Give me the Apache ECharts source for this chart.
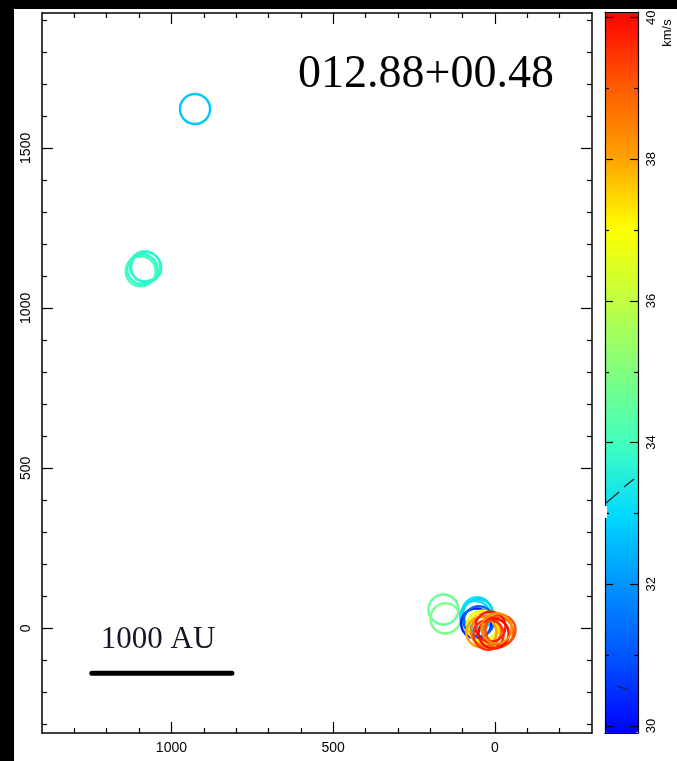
<!DOCTYPE html>
<html>
<head>
<meta charset="utf-8">
<script src="https://cdn.jsdelivr.net/npm/echarts@6/dist/echarts.min.js"></script>
<style>
  html, body { margin: 0; padding: 0; background: #ffffff; }
  #chart { width: 677px; height: 761px; }
</style>
</head>
<body>
<div id="chart"></div>
<script>
// Maser spot offsets (x, y) and line-of-sight velocities (km/s)
const spotX = [927, 1082, 1090, 1095, 1078, 159, 153, 55, 52, 60, 58, 50, 40, 35, 42, 28, -10, -17, 14, 4, 20, -5];
const spotY = [1623, 1132, 1122, 1116, 1128, 59, 31, 50, 44, 38, 15, 22, 8, 0, -12, -8, -12, -5, 5, -16, -20, 0];
const spotV = [32.7, 33.9, 33.8, 34.0, 33.7, 34.6, 34.9, 33.2, 32.9, 33.0, 30.3, 31.2, 36.8, 37.3, 38.0, 38.5, 38.8, 39.2, 39.8, 40.0, 39.5, 38.3];

// Axis ticks
const xMajorTicks = [1000, 500, 0];
const xMinorTicks = [1300, 1200, 1100, 900, 800, 700, 600, 400, 300, 200, 100, -100, -200];
const yMajorTicks = [0, 500, 1000, 1500];
const yMinorTicks = [-300, -200, -100, 100, 200, 300, 400, 600, 700, 800, 900, 1100, 1200, 1300, 1400, 1600, 1700, 1800, 1900];
const velMajorTicks = [30, 32, 34, 36, 38, 40];
const velMinorTicks = [31, 33, 35, 37, 39];

// Scale bar ends
const scaleBarX = [1246, 813];
const scaleBarY = [-140, -140];

const sourceName = '012.88+00.48';
const scaleLabel = '1000 AU';
const velUnit = 'km/s';

const ringRadius = 47; // ring radius in axis units
const ringColors = ['#0000ff', '#0050ff', '#0090ff', '#00d8ff', '#40ffc0', '#80ff80',
                    '#c0ff40', '#ffff00', '#ffa000', '#ff5800', '#ff0000'];

const spots = spotX.map((x, i) => [x, spotY[i], spotV[i]]);
const scaleBar = scaleBarX.map((x, i) => [x, scaleBarY[i]]);

const sans = 'Liberation Sans, Arial, sans-serif';
const serif = 'Liberation Serif, Times New Roman, serif';
const lineCol = '#000';
const plain = v => String(v);

function xAx(pos, ticks, len, showLine, showLabel) {
  return {
    type: 'value', gridIndex: 0, position: pos, inverse: true, min: -300, max: 1400,
    axisLine: { show: showLine, onZero: false, lineStyle: { color: lineCol, width: 1.5 } },
    axisTick: { show: true, inside: true, length: len, customValues: ticks, lineStyle: { color: lineCol, width: 1.2 } },
    axisLabel: showLabel ? { show: true, customValues: xMajorTicks, formatter: plain, color: '#000', fontFamily: sans, fontSize: 14, margin: 8 } : { show: false },
    splitLine: { show: false }
  };
}
function yAx(pos, ticks, len, showLine, showLabel) {
  return {
    type: 'value', gridIndex: 0, position: pos, min: -327, max: 1923,
    axisLine: { show: showLine, onZero: false, lineStyle: { color: lineCol, width: 1.5 } },
    axisTick: { show: true, inside: true, length: len, customValues: ticks, lineStyle: { color: lineCol, width: 1.2 } },
    axisLabel: showLabel ? { show: true, customValues: yMajorTicks, formatter: plain, rotate: 90, color: '#000', fontFamily: sans, fontSize: 14, margin: 9 } : { show: false },
    splitLine: { show: false }
  };
}
function velAx(pos, ticks, len, showLine, showLabel) {
  return {
    type: 'value', gridIndex: 1, position: pos, min: 29.9, max: 40.08, z: 10,
    axisLine: { show: showLine, onZero: false, lineStyle: { color: lineCol, width: 1.2 } },
    axisTick: { show: true, inside: true, length: len, customValues: ticks, lineStyle: { color: lineCol, width: 1.2 } },
    axisLabel: showLabel ? { show: true, customValues: velMajorTicks, formatter: plain, rotate: 90, color: '#000', fontFamily: sans, fontSize: 13, margin: 7 } : { show: false },
    splitLine: { show: false }
  };
}
function barEdge(pos) {
  return {
    type: 'value', gridIndex: 1, position: pos, min: 0, max: 1, z: 10,
    axisLine: { show: true, onZero: false, lineStyle: { color: lineCol, width: 1.2 } },
    axisTick: { show: false }, axisLabel: { show: false }, splitLine: { show: false }
  };
}

const chart = echarts.init(document.getElementById('chart'), null, { renderer: 'canvas' });
chart.setOption({
  backgroundColor: '#ffffff',
  animation: false,
  grid: [
    { left: 42, top: 13, width: 550, height: 720, containLabel: false },
    { left: 605, top: 12, width: 33, height: 721, containLabel: false }
  ],
  xAxis: [
    xAx('bottom', xMajorTicks, 11, true, true),
    xAx('bottom', xMinorTicks, 5, false, false),
    xAx('top', xMajorTicks, 11, true, false),
    xAx('top', xMinorTicks, 5, false, false),
    barEdge('top'),
    barEdge('bottom')
  ],
  yAxis: [
    yAx('left', yMajorTicks, 11, true, true),
    yAx('left', yMinorTicks, 5, false, false),
    yAx('right', yMajorTicks, 11, true, false),
    yAx('right', yMinorTicks, 5, false, false),
    velAx('right', velMajorTicks, 8, true, true),
    velAx('right', velMinorTicks, 4, false, false),
    velAx('left', velMajorTicks, 8, true, false),
    velAx('left', velMinorTicks, 4, false, false)
  ],
  visualMap: {
    type: 'continuous',
    seriesIndex: 0,
    dimension: 2,
    min: 29.9, max: 40.08,
    calculable: false,
    hoverLink: false,
    orient: 'vertical',
    left: 605, top: 12,
    itemWidth: 33, itemHeight: 721,
    padding: 0,
    text: null,
    inRange: { color: ringColors }
  },
  graphic: [
    { type: 'rect', left: 0, top: 0, shape: { width: 677, height: 9 }, style: { fill: '#000' }, silent: true },
    { type: 'rect', left: 0, top: 0, shape: { width: 14, height: 761 }, style: { fill: '#000' }, silent: true },
    { type: 'text', x: 426, y: 75, style: { text: sourceName, font: '46px ' + serif, fill: '#000', align: 'center', verticalAlign: 'middle' }, silent: true },
    { type: 'text', x: 158, y: 640, style: { text: scaleLabel, font: '31px ' + serif, fill: '#151528', align: 'center', verticalAlign: 'middle' }, silent: true },
    { type: 'text', x: 667, y: 33, rotation: Math.PI / 2, style: { text: velUnit, font: '13px ' + sans, fill: '#000', align: 'center', verticalAlign: 'middle' }, silent: true },
    // stray pen strokes crossing the wedge
    { type: 'rect', z: 20, shape: { x: 603, y: 506, width: 4, height: 12 }, style: { fill: '#fff' }, silent: true },
    { type: 'line', z: 20, shape: { x1: 606, y1: 503, x2: 619, y2: 492 }, style: { stroke: '#222', lineWidth: 1.2 }, silent: true },
    { type: 'line', z: 20, shape: { x1: 624, y1: 487, x2: 634, y2: 479 }, style: { stroke: '#222', lineWidth: 1.2 }, silent: true },
    { type: 'line', z: 20, shape: { x1: 617, y1: 686, x2: 628, y2: 690 }, style: { stroke: '#222', lineWidth: 1.2 }, silent: true }
  ],
  series: [
    {
      type: 'custom',
      coordinateSystem: 'cartesian2d',
      xAxisIndex: 0, yAxisIndex: 0,
      data: spots,
      encode: { x: 0, y: 1 },
      silent: true,
      renderItem: function (params, api) {
        const p = api.coord([api.value(0), api.value(1)]);
        const r = api.size([ringRadius, ringRadius])[1];
        return {
          type: 'circle',
          shape: { cx: p[0], cy: p[1], r: r },
          style: { fill: 'none', stroke: api.visual('color'), lineWidth: 2.4 }
        };
      }
    },
    {
      type: 'line',
      xAxisIndex: 0, yAxisIndex: 0,
      data: scaleBar,
      symbol: 'none',
      silent: true,
      lineStyle: { color: '#000', width: 5, cap: 'round' }
    }
  ]
});
</script>
</body>
</html>
